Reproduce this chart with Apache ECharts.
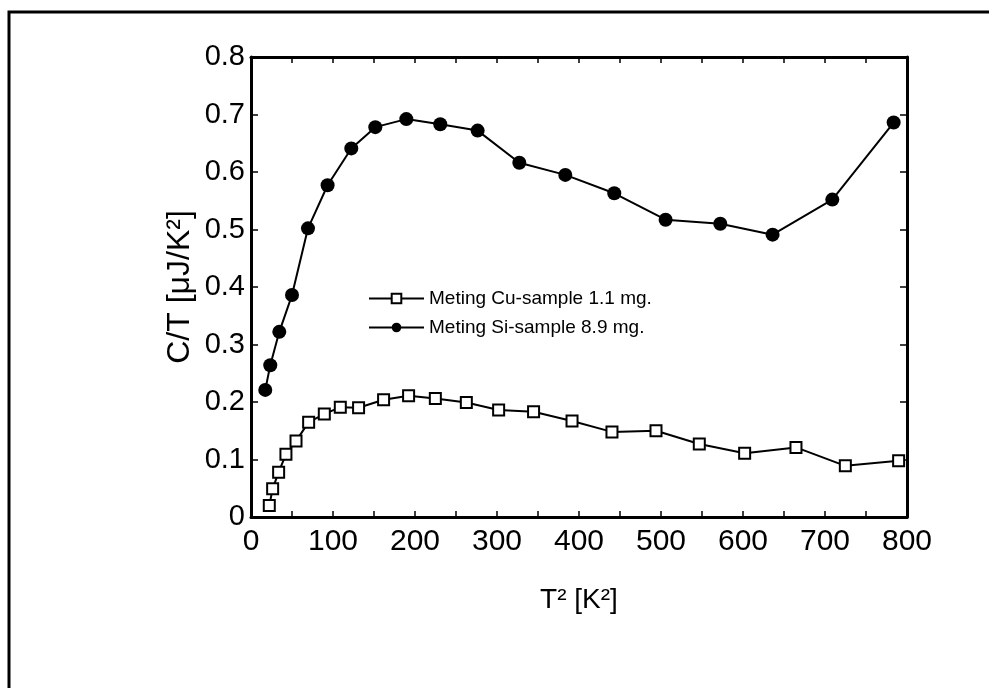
<!DOCTYPE html>
<html>
<head>
<meta charset="utf-8">
<script src="https://cdn.jsdelivr.net/npm/echarts@6/dist/echarts.min.js"></script>
<style>
html,body{margin:0;padding:0;background:#fff;}
#chart{width:989px;height:688px;}
</style>
</head>
<body>
<div id="chart"></div>
<script>
// Data
const cuX = [22.3, 26.4, 33.7, 42.6, 54.9, 70.3, 89.4, 108.9, 131.2, 161.7, 192.2, 224.8, 262.6, 302, 344.6, 391.5, 440.2, 493.9, 546.7, 602, 664.6, 724.8, 789.8];
const cuY = [0.020, 0.049, 0.078, 0.109, 0.132, 0.165, 0.179, 0.191, 0.190, 0.204, 0.211, 0.206, 0.199, 0.186, 0.183, 0.167, 0.148, 0.150, 0.127, 0.111, 0.121, 0.089, 0.098];
const siX = [17.4, 23.5, 34.5, 50, 69.5, 93.4, 122.3, 151.6, 189.4, 230.8, 276.4, 327.2, 383.3, 443, 505.6, 572.3, 636.1, 708.9, 783.7];
const siY = [0.221, 0.264, 0.322, 0.386, 0.502, 0.577, 0.641, 0.678, 0.692, 0.683, 0.672, 0.616, 0.595, 0.563, 0.517, 0.510, 0.491, 0.552, 0.686];
const seriesNames = ['Meting Cu-sample 1.1 mg.', 'Meting Si-sample 8.9 mg.'];
const xTitle = 'T² [K²]';
const yTitle = 'C/T [μJ/K²]';

const FONT = 'Liberation Sans, Arial, Helvetica, sans-serif';
const zip = (a, b) => a.map((v, i) => [v, b[i]]);

const chart = echarts.init(document.getElementById('chart'), null, {renderer: 'canvas'});
const axisLine = {show: true, onZero: false, lineStyle: {color: '#000', width: 3}};
const tick = len => ({show: true, inside: true, length: len, lineStyle: {color: '#000', width: 1.5}});
chart.setOption({
  animation: false,
  backgroundColor: '#fff',
  grid: {left: 251, top: 57, width: 656, height: 460, containLabel: false},
  graphic: [{
    type: 'rect', silent: true,
    shape: {x: 9, y: 12, width: 1200, height: 900},
    style: {fill: 'none', stroke: '#000', lineWidth: 3}
  }],
  legend: {
    orient: 'vertical', left: 363, top: 284, itemGap: 10,
    itemWidth: 55, itemHeight: 12,
    textStyle: {fontFamily: FONT, fontSize: 19, color: '#000'},
    data: seriesNames
  },
  xAxis: [{
    type: 'value', min: 0, max: 800, interval: 50, position: 'bottom',
    name: xTitle, nameLocation: 'middle', nameGap: 69,
    nameTextStyle: {fontFamily: FONT, fontSize: 28, color: '#000'},
    axisLine: axisLine, axisTick: tick(6),
    axisLabel: {fontFamily: FONT, fontSize: 30, color: '#000', margin: 10,
      formatter: v => (v % 100 === 0 ? String(v) : '')},
    splitLine: {show: false}
  }, {
    type: 'value', min: 0, max: 800, interval: 50, position: 'top',
    axisLine: axisLine, axisTick: tick(6),
    axisLabel: {show: false}, splitLine: {show: false}
  }],
  yAxis: [{
    type: 'value', min: 0, max: 0.8, interval: 0.1, position: 'left',
    name: yTitle, nameLocation: 'middle', nameGap: 55, nameMoveOverlap: false,
    nameTextStyle: {fontFamily: FONT, fontSize: 32, color: '#000'},
    axisLine: axisLine, axisTick: tick(7),
    axisLabel: {fontFamily: FONT, fontSize: 29, color: '#000', margin: 6,
      formatter: v => (Math.round(v * 10) === 0 ? '0' : (Math.round(v * 10) / 10).toFixed(1))},
    splitLine: {show: false}
  }, {
    type: 'value', min: 0, max: 0.8, interval: 0.1, position: 'right',
    axisLine: axisLine, axisTick: tick(7),
    axisLabel: {show: false}, splitLine: {show: false}
  }],
  series: [{
    name: seriesNames[0], type: 'line', xAxisIndex: 0, yAxisIndex: 0,
    data: zip(cuX, cuY),
    symbol: 'rect', symbolSize: 11, showAllSymbol: true,
    lineStyle: {color: '#000', width: 2},
    itemStyle: {color: '#fff', borderColor: '#000', borderWidth: 2},
    z: 3
  }, {
    name: seriesNames[1], type: 'line', xAxisIndex: 0, yAxisIndex: 0,
    data: zip(siX, siY),
    symbol: 'circle', symbolSize: 14, showAllSymbol: true,
    lineStyle: {color: '#000', width: 2},
    itemStyle: {color: '#000', borderColor: '#000', borderWidth: 0},
    z: 3
  }, {
    type: 'line', xAxisIndex: 1, yAxisIndex: 1, data: [], silent: true
  }]
});
</script>
</body>
</html>
